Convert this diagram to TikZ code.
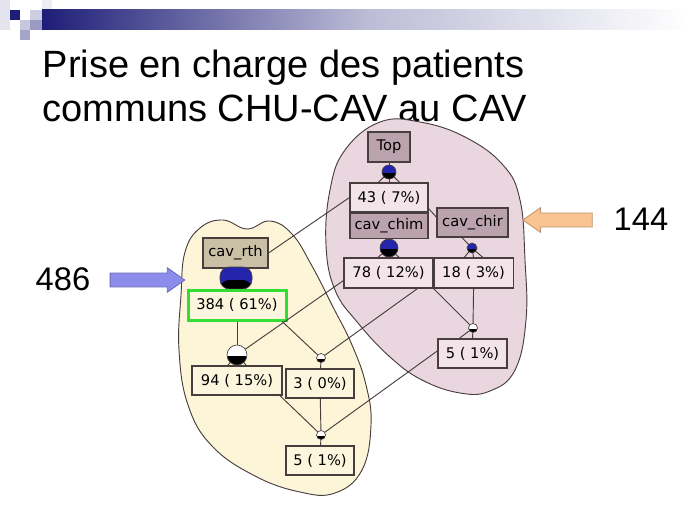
\documentclass[tikz,border=0pt]{standalone}
\usepackage{fontspec}
\setmainfont{Liberation Sans}
\newfontfamily\graphfont{DejaVu Sans}
\usepackage{xcolor}
\usepackage{tikz}
\usetikzlibrary{shapes,shapes.arrows,positioning,calc}

\definecolor{navy}{RGB}{30,30,120}
\definecolor{edgec}{RGB}{72,62,62}
\definecolor{creambg}{RGB}{252,245,216}
\definecolor{creambox}{RGB}{252,246,222}
\definecolor{pinkbg}{RGB}{233,214,223}
\definecolor{pinkbox}{RGB}{243,228,234}
\definecolor{mauve}{RGB}{187,163,173}
\definecolor{khaki}{RGB}{201,192,165}
\definecolor{knotblue}{RGB}{36,36,172}
\definecolor{hlgreen}{RGB}{50,222,50}
\definecolor{arrowblue}{RGB}{140,140,236}
\definecolor{arrowpeach}{RGB}{250,196,146}

\begin{document}
\begin{tikzpicture}[
  x=0.75pt, y=-0.75pt,
  valbox/.style={rectangle, draw=edgec, line width=0.8pt, inner sep=0pt,
    minimum height=21.75pt, font=\graphfont\fontsize{11}{13}\selectfont},
  headbox/.style={valbox, fill=mauve},
  joint/.style={circle, draw=edgec, line width=0.5pt, inner sep=0pt, fill=#1,
    path picture={\fill[black] (path picture bounding box.south west)
      rectangle ([yshift=-1pt]path picture bounding box.east);}},
  link/.style={draw=edgec, line width=0.7pt},
  blob/.style={draw=edgec, line width=0.7pt},
  bigarrow/.style={single arrow, draw=#1!75!black, fill=#1, line width=0.6pt,
    minimum width=0pt, inner sep=4.9pt, single arrow head extend=4pt,
    single arrow tip angle=70},
  count/.style={anchor=base west, font=\fontsize{24.5}{29}\selectfont}
]
\useasboundingbox (0,0) rectangle (689,517);

% slide header
\fill[navy!12] (0,0) rectangle (10,30);
\fill[navy!8] (42,0) rectangle (52,10);
\fill[navy!22] (30,10) rectangle (42,20);
\fill[navy!25] (20,20) rectangle (30,30);
\fill[navy!45] (30,20) rectangle (42,30);
\fill[navy!40] (20,30) rectangle (30,40);
\fill[navy] (10,10) rectangle (20,20);
\shade[left color=navy, right color=white, middle color=navy!30] (42,10) rectangle (689,30);

\node[anchor=base west, font=\fontsize{28.5}{34}\selectfont] (title1) at (38,78) {Prise en charge des patients};
\node[anchor=base west, font=\fontsize{28.5}{34}\selectfont] (title2) at (38,122) {communs CHU-CAV au CAV};

% groups
\path[blob, fill=pinkbg] plot[smooth cycle, tension=0.7] coordinates {
  (380,122) (420,122) (465,137) (503,165) (520,200) (525,260) (526,320)
  (515,370) (490,391) (460,393) (422,380) (390,357) (358,323) (335,290)
  (326,245) (330,190) (345,150)};
\path[blob, fill=creambg] plot[smooth cycle, tension=0.7] coordinates {
  (185,252) (200,228) (223,220) (247,229) (270,221) (292,234) (312,266)
  (332,305) (352,345) (366,385) (371,425) (362,470) (335,493) (300,492)
  (255,476) (212,446) (188,405) (179,350) (181,295)};

% CAV side
\node[headbox, minimum width=31.5pt, minimum height=22.5pt] (top) at (389,147) {Top};
\node[joint=knotblue, minimum size=10.5pt] (dtop) at (389,172) {};
\node[valbox, fill=pinkbox, minimum width=58.5pt] (n43) at (389,197.5) {43 ( 7\%)};
\node[headbox, minimum width=58.5pt, minimum height=18.75pt, below=0pt of n43] (chim) {cav\_chim};
\node[headbox, minimum width=53.25pt] (chir) at (472.5,222.5) {cav\_chir};
\node[joint=knotblue, minimum size=13.5pt] (dchim) at (389,248) {};
\node[joint=knotblue, minimum size=7.5pt] (dchir) at (472,248) {};
\node[valbox, fill=pinkbox, minimum width=66.75pt, minimum height=22.5pt] (n78) at (388.5,273) {78 ( 12\%)};
\node[valbox, fill=pinkbox, minimum width=59.25pt, minimum height=22.5pt, right=0pt of n78] (n18) {18 ( 3\%)};
\node[joint=white, minimum size=6.75pt] (d5p) at (473,328) {};
\node[valbox, fill=pinkbox, minimum width=51.75pt] (n5p) at (472.5,353.5) {5 ( 1\%)};

% CHU side
\node[valbox, fill=khaki, minimum width=48.75pt, minimum height=22.5pt] (rth) at (235.5,253) {cav\_rth};
\node[rectangle, rounded corners=7pt, draw=edgec, line width=0.5pt, fill=knotblue,
  minimum width=24pt, minimum height=16.5pt, inner sep=0pt,
  path picture={\fill[black] (path picture bounding box.south west)
    rectangle ([yshift=-1.5pt]path picture bounding box.east);}] (drth) at (236,278) {};
\node[valbox, fill=creambox, draw=hlgreen, line width=2.25pt, minimum width=73.5pt, minimum height=22.5pt] (n384) at (237,305) {384 ( 61\%)};
\node[joint=white, minimum size=15pt] (d94) at (237,355) {};
\node[joint=white, minimum size=6.75pt] (d3) at (321,358) {};
\node[valbox, fill=creambox, minimum width=67.5pt] (n94) at (237,380.5) {94 ( 15\%)};
\node[valbox, fill=creambox, minimum width=51pt] (n3) at (320,383.5) {3 ( 0\%)};
\node[joint=white, minimum size=6.75pt] (d5b) at (321,435) {};
\node[valbox, fill=creambox, minimum width=51pt] (n5b) at (320,460.5) {5 ( 1\%)};

% links
\draw[link] (top) -- (dtop);
\foreach \s in {-8pt,0pt,8pt} { \draw[link] (dtop) -- ([xshift=\s]n43.north); }
\foreach \s in {-8pt,0pt,8pt} { \draw[link] (dchim) -- ([xshift=\s]n78.north); }
\foreach \s in {-7pt,0pt,7pt} { \draw[link] (dchir) -- ([xshift=\s]n18.north); }
\foreach \s in {-7pt,0pt,7pt} { \draw[link] (d94) -- ([xshift=\s]n94.north); }
\draw[link] ([xshift=-8pt]chir.south) -- (dchir);
\draw[link] ([yshift=3pt]n43.south east) -- ([yshift=4pt]chir.west);
\draw[link] (rth.east) -- (n43.west);
\draw[link] ([yshift=6pt]n78.south west) -- (d94);
\draw[link] ([xshift=-12pt]n78.south east) -- (d3);
\draw[link] (n78.south east) -- (d5p);
\draw[link] (n18.south) -- (d5p);
\foreach \s in {-10pt,0pt} { \draw[link] (d5p) -- ([xshift=\s]n5p.north); }
\draw[link] (n384.south) -- (d94);
\draw[link] ([xshift=-4pt]n384.south east) -- (d3);
\draw[link] (d3) -- (n3);
\draw[link] ([xshift=-2pt]n94.south east) -- (d5b);
\draw[link] (n3) -- (d5b);
\draw[link] ([yshift=2pt]n5p.west) -- (d5b);
\draw[link] (d5b) -- (n5b);

% counts
\node[count] (c486) at (31,290) {486};
\node[bigarrow=arrowblue, minimum height=56pt] (a486) at (142.5,280) {};
\node[count] (c144) at (609,230) {144};
\node[bigarrow=arrowpeach, minimum height=52pt, shape border rotate=180] (a144) at (562.5,220) {};
\end{tikzpicture}
\end{document}
